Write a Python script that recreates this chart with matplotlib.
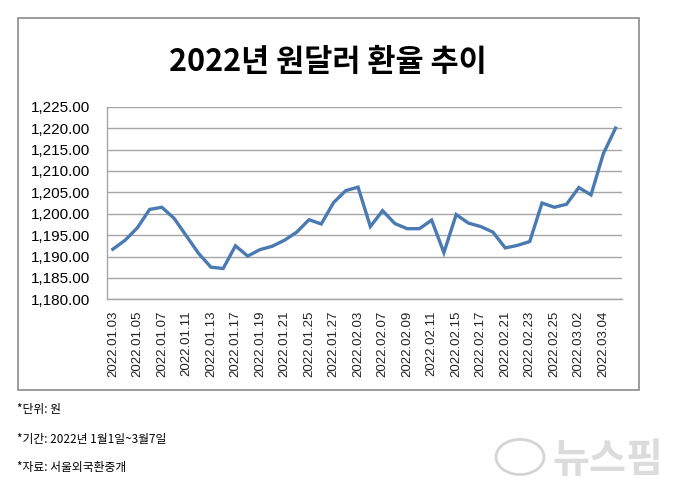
import matplotlib
matplotlib.use('Agg')
import matplotlib.pyplot as plt
from matplotlib.patches import Rectangle, Circle
import numpy as np

plt.rcParams['font.family'] = ['Liberation Sans', 'Noto Sans CJK KR']

# 영업일 기준 날짜 (2022.01.03 ~ 2022.03.07)
dates = ['2022.01.03', '2022.01.04', '2022.01.05', '2022.01.06', '2022.01.07',
         '2022.01.10', '2022.01.11', '2022.01.12', '2022.01.13', '2022.01.14',
         '2022.01.17', '2022.01.18', '2022.01.19', '2022.01.20', '2022.01.21',
         '2022.01.24', '2022.01.25', '2022.01.26', '2022.01.27', '2022.01.28',
         '2022.02.03', '2022.02.04', '2022.02.07', '2022.02.08', '2022.02.09',
         '2022.02.10', '2022.02.11', '2022.02.14', '2022.02.15', '2022.02.16',
         '2022.02.17', '2022.02.18', '2022.02.21', '2022.02.22', '2022.02.23',
         '2022.02.24', '2022.02.25', '2022.02.28', '2022.03.02', '2022.03.03',
         '2022.03.04', '2022.03.07']
rates = [1191.7, 1193.8, 1196.7, 1201.0, 1201.5,
         1198.9, 1194.8, 1190.7, 1187.5, 1187.2,
         1192.5, 1190.1, 1191.6, 1192.4, 1193.8,
         1195.7, 1198.6, 1197.6, 1202.6, 1205.4,
         1206.2, 1197.0, 1200.7, 1197.7, 1196.5,
         1196.5, 1198.5, 1190.9, 1199.8, 1197.8,
         1197.0, 1195.7, 1192.0, 1192.6, 1193.5,
         1202.5, 1201.5, 1202.2, 1206.1, 1204.4,
         1214.0, 1220.0]
y_ticks = [1180, 1185, 1190, 1195, 1200, 1205, 1210, 1215, 1220, 1225]

title = '2022년 원달러 환율 추이'
notes = ['*단위: 원', '*기간: 2022년 1월1일~3월7일', '*자료: 서울외국환중개']

fig = plt.figure(figsize=(6.8, 4.97), dpi=100)

# 차트 테두리
fig.patches.append(Rectangle((18/680, 1-390/497), 621/680, 372/497,
                             transform=fig.transFigure, fill=False,
                             edgecolor='#8c8c8c', lw=1.2))

ax = fig.add_axes([106.7/680, 1-299.3/497, 515/680, 192.6/497])
x = np.arange(len(rates))
ax.plot(x, rates, color='#4a7ab2', lw=2.4, solid_joinstyle='miter')

ax.set_xlim(-0.5, len(rates)-0.5)
ax.set_ylim(1180, 1225)
ax.set_yticks(y_ticks)
ax.set_yticklabels([f'{v:,.2f}' for v in y_ticks], fontsize=11)
ax.set_xticks(x[::2])
ax.set_xticklabels(dates[::2], rotation=90, fontsize=9.5, color='#222222')
ax.tick_params(axis='both', length=0)
ax.tick_params(axis='y', pad=12)
ax.tick_params(axis='x', pad=8)
ax.grid(axis='y', color='#a6a6a6', lw=1)
ax.set_axisbelow(True)
for s in ['top', 'right']:
    ax.spines[s].set_visible(False)
for s in ['left', 'bottom']:
    ax.spines[s].set_color('#a6a6a6')
    ax.spines[s].set_linewidth(1)

fig.text(328/680, 1-62/497, title, ha='center', va='center',
         fontsize=22, fontweight='bold', family=['Noto Sans CJK KR'])

for i, t in enumerate(notes):
    fig.text(17/680, 1-(410+29*i)/497, t, ha='left', va='center',
             fontsize=8.5, family=['Noto Sans CJK KR'])

# 워터마크
fig.patches.append(Circle((520/680, 1-457/497), 24/680, transform=fig.transFigure,
                          fill=False, edgecolor='#d4d4d4', lw=2))
fig.text(608/680, 1-460/497, '뉴스핌', ha='center', va='center', fontsize=29,
         fontweight='bold', color='#dcdcdc', family=['Noto Sans CJK KR'])

fig.savefig('out.png', dpi=100)
